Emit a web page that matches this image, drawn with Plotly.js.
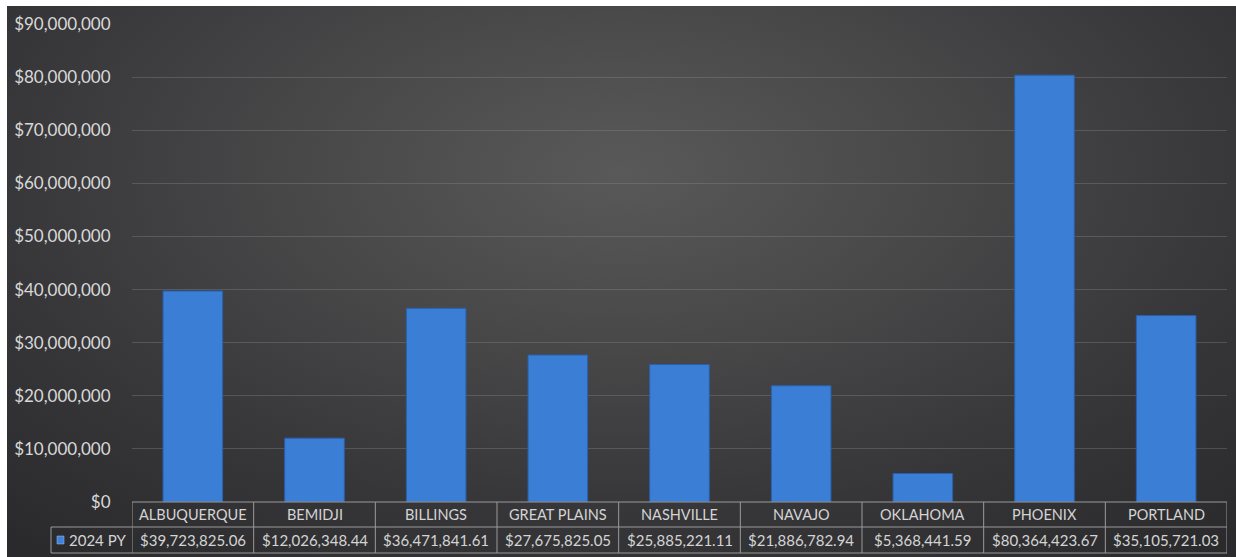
<!DOCTYPE html>
<html>
<head>
<meta charset="utf-8">
<script src="https://cdn.plot.ly/plotly-3.0.1.min.js"></script>
<style>
  html, body { margin: 0; padding: 0; background: #ffffff; width: 1236px; height: 557px; overflow: hidden; }
  #bg { position: absolute; left: 7px; top: 6px; width: 1229px; height: 551px;
        background: radial-gradient(ellipse 75% 90% at 50% 30%, #595959 0%, #484849 35%, #363639 70%, #2a2a2c 100%); }
  #chart { position: absolute; left: 0; top: 0; width: 1236px; height: 557px; }
</style>
</head>
<body>
<div id="bg"></div>
<div id="chart"></div>
<script>
const categories = ["ALBUQUERQUE", "BEMIDJI", "BILLINGS", "GREAT PLAINS", "NASHVILLE", "NAVAJO", "OKLAHOMA", "PHOENIX", "PORTLAND"];
const values2024PY = [39723825.06, 12026348.44, 36471841.61, 27675825.05, 25885221.11, 21886782.94, 5368441.59, 80364423.67, 35105721.03];
const seriesName = "2024 PY";
const yTickVals = [0, 10000000, 20000000, 30000000, 40000000, 50000000, 60000000, 70000000, 80000000, 90000000];
const yTickText = yTickVals.map(v => "$" + v.toLocaleString("en-US"));

const fmtMoney = v => "$" + v.toLocaleString("en-US", {minimumFractionDigits: 2, maximumFractionDigits: 2});

const plotH = 478;           // px of plotting area
const plotW = 1095;
const row1 = -25 / plotH;    // paper y of first row separator
const row2 = -51 / plotH;    // paper y of table bottom
const legLeft = -81 / plotW; // paper x of legend cell left edge
const borderColor = "#9a9a9a";
const textColor = "#d4d4d4";
const font = "Lato, 'Open Sans', sans-serif";

const shapes = [];
const annotations = [];
shapes.push({type: "line", xref: "paper", yref: "paper", x0: 0, x1: 1, y0: 0, y1: 0, line: {color: borderColor, width: 1}});
shapes.push({type: "line", xref: "paper", yref: "paper", x0: legLeft, x1: 1, y0: row1, y1: row1, line: {color: borderColor, width: 1}});
shapes.push({type: "line", xref: "paper", yref: "paper", x0: legLeft, x1: 1, y0: row2, y1: row2, line: {color: borderColor, width: 1}});
shapes.push({type: "line", xref: "paper", yref: "paper", x0: legLeft, x1: legLeft, y0: row1, y1: row2, line: {color: borderColor, width: 1}});
for (let i = 0; i <= categories.length; i++) {
  shapes.push({type: "line", xref: "x", yref: "paper", x0: i - 0.5, x1: i - 0.5, y0: 0, y1: row2, line: {color: borderColor, width: 1}});
}
categories.forEach((c, i) => {
  annotations.push({x: c, xref: "x", yref: "paper", y: row1 / 2, text: c, showarrow: false,
    xanchor: "center", yanchor: "middle", font: {family: font, size: 14.5, color: textColor}});
  annotations.push({x: c, xref: "x", yref: "paper", y: (row1 + row2) / 2, text: fmtMoney(values2024PY[i]), showarrow: false,
    xanchor: "center", yanchor: "middle", font: {family: font, size: 15, color: textColor}});
});
shapes.push({type: "rect", xref: "paper", yref: "paper", x0: -75 / plotW, x1: -68 / plotW, y0: row1 - 9 / plotH, y1: row1 - 17 / plotH,
  fillcolor: "#3f82da", line: {color: "#9cc3f2", width: 0.5}});
annotations.push({xref: "paper", yref: "paper", x: -4 / plotW, y: (row1 + row2) / 2, text: seriesName, showarrow: false,
  xanchor: "right", yanchor: "middle", font: {family: font, size: 15, color: textColor}});

const trace = {
  type: "bar",
  x: categories,
  y: values2024PY,
  name: seriesName,
  marker: {color: "#3b7ed5", line: {color: "#2a5fab", width: 1}},
  hoverinfo: "x+y"
};

const layout = {
  width: 1236, height: 557,
  margin: {l: 132, r: 9, t: 24, b: 55, pad: 0},
  paper_bgcolor: "rgba(0,0,0,0)",
  plot_bgcolor: "rgba(0,0,0,0)",
  showlegend: false,
  bargap: 0.51,
  xaxis: {range: [-0.5, categories.length - 0.5], showticklabels: false, showgrid: false, zeroline: false, showline: false, fixedrange: true},
  yaxis: {range: [0, 90000000], tickmode: "array", tickvals: yTickVals, ticktext: yTickText,
    showgrid: true, gridcolor: "rgba(140,140,140,0.35)", gridwidth: 1, zeroline: false, showline: false,
    ticks: "outside", ticklen: 17, tickcolor: "rgba(0,0,0,0)",
    tickfont: {family: font, size: 17, color: "#d9d9d9"}, fixedrange: true},
  shapes: shapes,
  annotations: annotations
};

Plotly.newPlot("chart", [trace], layout, {displayModeBar: false, staticPlot: true});
</script>
</body>
</html>
